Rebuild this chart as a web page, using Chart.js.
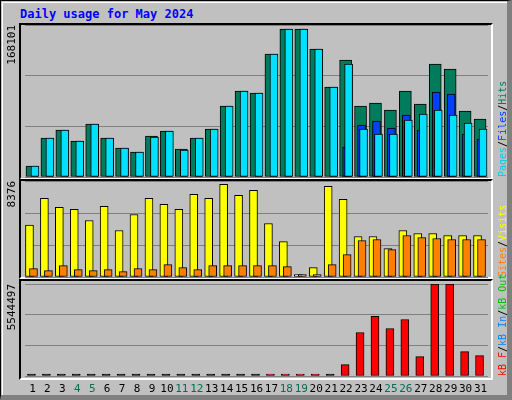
<!DOCTYPE html>
<html>
<head>
<meta charset="utf-8">
<title>Daily usage for May 2024</title>
<script src="https://cdn.jsdelivr.net/npm/chart.js@4.4.0/dist/chart.umd.min.js"></script>
<style>
  html,body{margin:0;padding:0;}
  body{width:512px;height:400px;background:#c0c0c0;position:relative;overflow:hidden;font-family:"DejaVu Sans Mono",monospace;}
  .outer{position:absolute;left:0;top:0;width:506px;height:394px;border:1px solid #000;border-right:5px solid #808080;border-bottom:5px solid #808080;box-sizing:content-box;}
  .inner{position:absolute;left:1px;top:1px;width:504px;height:392px;border-top:1px solid #fff;border-left:1px solid #fff;}
  .panel{position:absolute;left:19px;width:470px;border-top:2px solid #000;border-left:2px solid #000;border-bottom:2px solid #fff;border-right:2px solid #fff;}
  canvas{position:absolute;left:0;top:0;}
  #title{position:absolute;left:20px;top:7px;color:#0000ff;font-weight:bold;font-size:12px;}
</style>
</head>
<body>
<div class="outer"><div class="inner"></div></div>
<div class="panel" style="top:23px;height:153px"></div>
<div class="panel" style="top:179px;height:96px"></div>
<div class="panel" style="top:279px;height:97px"></div>
<div id="title">Daily usage for May 2024</div>
<canvas id="c1" width="512" height="400"></canvas>
<canvas id="c2" width="512" height="400"></canvas>
<canvas id="c3" width="512" height="400"></canvas>
<script>
// ---- data ----
const days = ['1','2','3','4','5','6','7','8','9','10','11','12','13','14','15','16',
  '17','18','19','20','21','22','23','24','25','26','27','28','29','30','31'];
const weekends = ['4','5','11','12','18','19','25','26'];
const hits  = [12166,43134,51982,39816,58618,43134,32074,27650,45346,50876,30968,43134,53088,78526,95116,92904,
  136038,163688,163688,141568,99540,129402,78526,81844,74102,95116,80738,124978,119448,72996,64148];
const files = [null,null,null,null,null,null,null,null,null,null,null,null,null,null,null,null,
  null,null,null,null,null,33180,57512,61936,54194,68572,51982,94010,91798,47558,42028];
const pages = [12166,43134,51982,39816,58618,43134,32074,27650,44240,50876,29862,43134,53088,78526,95116,92904,
  136038,163688,163688,141568,99540,124978,53088,47558,47558,63042,69678,74102,68572,59724,53088];
const visits = [4523,6857,6069,5894,4931,6157,4056,5457,6857,6332,5894,7207,6857,8083,7120,7558,
  4669,3093,204,817,7908,6770,3531,3531,2480,4056,3793,3793,3618,3618,3618];
const sites = [730,554,992,642,554,642,467,730,642,1080,817,642,992,992,992,992,
  992,905,204,204,1080,1955,3181,3268,2393,3618,3443,3356,3268,3268,3268];
const kbF = [0,0,0,0,0,0,0,0,0,0,0,0,0,0,0,0,
  50000,50000,50000,50000,0,685500,2621000,3589000,2863000,3407000,1169000,5544497,5544497,1472000,1230000];
const maxHits = 168101, maxVisits = 8376, maxKB = 5544497;

Chart.defaults.animation = false;
Chart.defaults.font.family = '"DejaVu Sans Mono", monospace';

const shiftPlugin = {
  id:'shift',
  afterDatasetsUpdate(chart){
    chart.data.datasets.forEach((ds,i)=>{
      chart.getDatasetMeta(i).data.forEach(el=>{ el.x += ds.xShift || 0; });
    });
  },
  afterDraw(chart, args, opts){
    const ctx = chart.ctx, a = chart.chartArea;
    ctx.save();
    ctx.font = '11px "DejaVu Sans Mono", monospace';
    // max label on the left
    ctx.save();
    ctx.translate(16, a.top);
    ctx.rotate(-Math.PI/2);
    ctx.fillStyle = '#000';
    ctx.textAlign = 'right';
    ctx.textBaseline = 'bottom';
    ctx.fillText(opts.max, 0, 2);
    ctx.restore();
    // legend on the right, reading bottom to top
    ctx.save();
    ctx.font = '10px "DejaVu Sans Mono", monospace';
    ctx.translate(503, a.bottom);
    ctx.rotate(-Math.PI/2);
    ctx.textBaseline = 'middle';
    ctx.textAlign = 'left';
    let x = 0;
    opts.legend.forEach(([t,c])=>{
      ctx.fillStyle = c;
      ctx.fillText(t, x, 0);
      x += ctx.measureText(t).width;
    });
    ctx.restore();
    // day labels
    if (opts.days) {
      const xs = chart.scales.x;
      days.forEach((d,i)=>{
        ctx.fillStyle = weekends.includes(d) ? '#007050' : '#000';
        ctx.textAlign = 'center';
        ctx.textBaseline = 'middle';
        ctx.fillText(d, xs.getPixelForValue(i), 389);
      });
    }
    ctx.restore();
  }
};

function makeChart(id, datasets, max, pad, extra){
  return new Chart(document.getElementById(id), {
    type:'bar',
    data:{labels:days, datasets:datasets},
    options:{
      responsive:false,
      layout:{padding:pad},
      events:[],
      scales:{
        x:{display:false},
        y:{min:0,max:max,
           ticks:{display:false,stepSize:max/3},
           border:{display:false},
           grid:{color:'#808080',drawTicks:false,lineWidth:1}}
      },
      plugins:{legend:{display:false},tooltip:{enabled:false},shift:extra}
    },
    plugins:[shiftPlugin]
  });
}

const bar = (data,color,w,shift,more)=>Object.assign({data:data,backgroundColor:color,borderColor:'#000',
  borderWidth:1,borderSkipped:false,barThickness:w,grouped:false,xShift:shift},more||{});

makeChart('c1', [
  bar(pages,'#00e0ff',8,2.5,{order:1}),
  bar(files,'#0040ff',8,0.5,{order:2}),
  bar(hits,'#007c5c',12,-0.5,{order:3})
], maxHits, {top:25,bottom:223,left:25,right:24},
  {max:'168101',legend:[['Pages','#00d0e0'],['/','#000'],['Files','#0040ff'],['/','#000'],['Hits','#007c5c']]});

makeChart('c2', [
  bar(sites,'#ff8000',8,1,{order:1}),
  bar(visits,'#ffff00',8,-3,{order:2})
], maxVisits, {top:181,bottom:123,left:25,right:24},
  {max:'8376',legend:[['Sites','#ff8000'],['/','#000'],['Visits','#ffff00']]});

makeChart('c3', [
  bar(kbF, kbF.map(v=> v>0 ? '#ff0000' : '#000'), 8, -1, {minBarLength:2})
], maxKB, {top:284,bottom:24,left:25,right:24},
  {max:'5544497',days:true,legend:[['kB F','#ff0000'],['/','#000'],['kB In','#0080ff'],['/','#000'],['kB Out','#00c000']]});
</script>
</body>
</html>
